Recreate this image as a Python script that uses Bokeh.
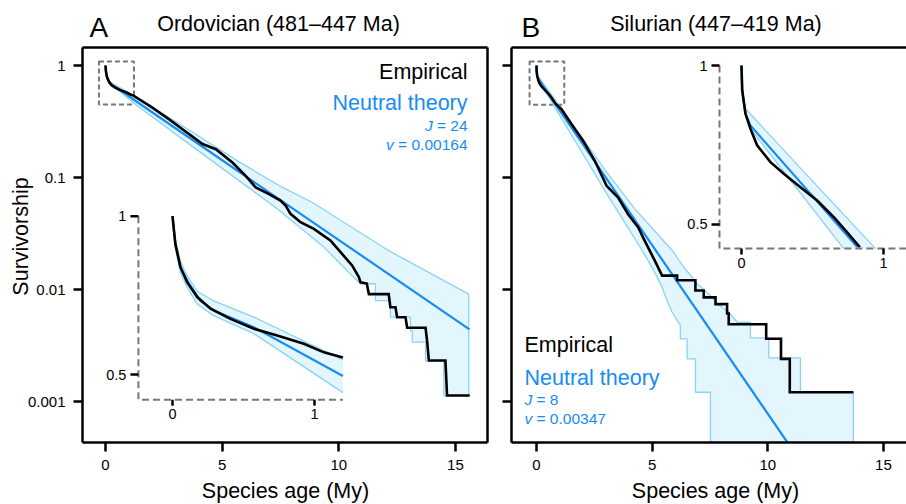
import math
from bokeh.plotting import figure
from bokeh.layouts import row
from bokeh.models import Range1d, LinearScale, LogScale, LinearAxis, FixedTicker, Label
from bokeh.embed import file_html
from bokeh.resources import INLINE
from bokeh.core.properties import value

# ------------------------------------------------------------------ data
x_ticks = [0, 5, 10, 15]
x_tick_labels = ["0", "5", "10", "15"]
y_ticks = [0.001, 0.01, 0.1, 1]
y_tick_labels = ["0.001", "0.01", "0.1", "1"]
inset_x_ticks = [0, 1]
inset_x_tick_labels = ["0", "1"]
inset_y_ticks = [0.5, 1]
inset_y_tick_labels = ["0.5", "1"]

titles = ["Ordovician (481\u2013447 Ma)", "Silurian (447\u2013419 Ma)"]
letters = ["A", "B"]
x_title = "Species age (My)"
y_title = "Survivorship"
J_text = ["= 24", "= 8"]
v_text = ["= 0.00164", "= 0.00347"]

# Ordovician: empirical survivorship
ord_emp_age = [0, 0.02, 0.056, 0.103, 0.174, 0.268, 0.408, 0.573, 0.737, 0.925,
               1.066, 1.2, 2.01, 2.73, 3.3, 4.16, 4.73, 5.44, 6.01, 6.44,
               7.01, 7.5, 7.73, 7.93, 8.36, 8.93, 9.64, 10.14, 10.57, 10.86, 10.93,
               11.2, 11.29, 12.14, 12.21, 12.43, 12.5, 12.86, 12.93, 13.72, 13.79,
               13.86, 14.57, 14.64, 15.61]
ord_emp_surv = [1.0, 0.886, 0.80, 0.749, 0.702, 0.667, 0.638, 0.611, 0.593, 0.572,
                0.551, 0.539, 0.42, 0.33, 0.27, 0.199, 0.179, 0.136, 0.1035, 0.0814,
                0.071, 0.0623, 0.0559, 0.0474, 0.0399, 0.0348, 0.0274, 0.0208, 0.0164, 0.0129, 0.0116,
                0.0113, 0.0091, 0.0091, 0.00695, 0.00695, 0.00566, 0.00566, 0.00455, 0.00455, 0.00339,
                0.00232, 0.00232, 0.00113, 0.00113]
# Ordovician: neutral theory (mean, upper and lower bounds)
ord_neu_age = [0, 0.02, 0.056, 0.115, 0.197, 0.291, 0.573, 1.2, 15.6]
ord_neu_surv = [1.0, 0.886, 0.80, 0.745, 0.69, 0.662, 0.615, 0.497, 0.0044]
ord_up_age = [0, 0.02, 0.056, 0.103, 0.174, 0.29, 0.573, 1.2, 3.0, 5.8, 7.59, 8.87, 12.13, 15.57, 15.57]
ord_up_surv = [1.0, 0.90, 0.82, 0.77, 0.72, 0.69, 0.643, 0.533, 0.316, 0.135, 0.0815, 0.0598, 0.0223, 0.0091, 0.00113]
ord_lo_age = [0, 0.02, 0.056, 0.103, 0.174, 0.29, 0.573, 1.2, 4.0, 7.29, 9.36, 10.57, 10.93,
              11.57, 11.57, 12.21, 12.21, 13.07, 13.07, 13.15, 13.15, 13.72, 13.72, 14.5, 14.5, 15.57]
ord_lo_surv = [1.0, 0.87, 0.78, 0.733, 0.681, 0.647, 0.598, 0.462, 0.172, 0.054, 0.0239, 0.0133, 0.01125,
               0.01125, 0.00797, 0.00797, 0.00566, 0.00566, 0.0043, 0.0043, 0.00339, 0.00339, 0.00229, 0.00229,
               0.00113, 0.00113]

# Silurian: empirical survivorship
sil_emp_age = [0, 0.005, 0.028, 0.063, 0.11, 0.204, 0.298, 0.415, 0.533, 0.65, 0.744, 0.833,
               1.08, 1.51, 2.02, 2.52, 3.03, 3.53, 3.96, 4.40, 4.68, 5.12, 5.43,
               6.08, 6.08, 6.87, 6.87, 7.23, 7.23, 7.74, 7.74, 8.24, 8.24, 8.31, 8.31,
               9.93, 9.93, 10.57, 10.57, 10.95, 10.95, 13.7]
sil_emp_surv = [1.0, 0.897, 0.81, 0.759, 0.706, 0.656, 0.624, 0.588, 0.555, 0.516, 0.483, 0.453,
                0.407, 0.30, 0.212, 0.141, 0.0843, 0.0663, 0.047, 0.0358, 0.0272, 0.018, 0.0133,
                0.0133, 0.0121, 0.0121, 0.0098, 0.0098, 0.0085, 0.0085, 0.0074, 0.0074, 0.0061, 0.0061, 0.0049,
                0.0049, 0.00363, 0.00363, 0.0024, 0.0024, 0.00121, 0.00121]
# Silurian: neutral theory (mean, upper and lower bounds); 0 = extinct (drawn at the axis floor)
sil_neu_age = [0, 0.005, 0.028, 0.063, 0.815, 10.84]
sil_neu_surv = [1.0, 0.897, 0.81, 0.77, 0.453, 0.000434]
sil_up_age = [0, 0.005, 0.028, 0.5, 0.944, 2.0, 3.0, 4.25, 5.87, 6.37, 6.95, 7.52, 7.81, 8.31, 8.68,
              9.25, 9.25, 10.04, 10.04, 11.41, 11.41, 13.7, 13.7]
sil_up_surv = [1.0, 0.90, 0.828, 0.604, 0.45, 0.222, 0.1138, 0.0525, 0.0223, 0.0158, 0.01125, 0.00883,
               0.00745, 0.0063, 0.0051, 0.0051, 0.0037, 0.0037, 0.00245, 0.00245, 0.00121, 0.00121, 0]
sil_lo_age = [0, 0.005, 0.028, 0.063, 0.72, 2.0, 3.0, 4.57, 5.07, 5.43, 5.64, 5.86, 6.22, 6.22,
              6.51, 6.51, 6.87, 6.87, 7.52, 7.52]
sil_lo_surv = [1.0, 0.897, 0.81, 0.759, 0.45, 0.163, 0.0736, 0.0223, 0.0148, 0.0105, 0.00798, 0.0063,
               0.00479, 0.00363, 0.00363, 0.0024, 0.0024, 0.00121, 0.00121, 0]

# ------------------------------------------------------------------ style / geometry (page px)
FONT = "Liberation Sans"
BLUE = "#168cf5"
BAND_LINE = "#88d3f6"
BAND_FILL = "#e3f5fd"
GRAY = "#777777"
BIG = 21.5
SMALL = 15.5
LETTER = 28

FIG_H = 504
BOX_TOP, BOX_BOT = 47, 442      # panel box (axes) top / bottom in page px

CFG = [
    dict(width=497, c_left=0, c_right=497, b_left=82, b_right=487, x0=105, ppu=23.33, y1=65, ppd=112,
         ix0=172, ippu=142, iy1=215.7, ippd=526, ileft=-0.24, ibot=0.448, iright=1.2,
         box=(-0.28, 1.22, 0.448, 1.085), right_border=True),
    dict(width=409, c_left=497, c_right=906, b_left=511, b_right=906, x0=536, ppu=23.13, y1=65, ppd=112,
         ix0=741, ippu=142, iy1=65, ippd=528, ileft=-0.155, ibot=0.45, iright=1.2,
         box=(-0.3, 1.2, 0.447, 1.086), right_border=False),
]
SERIES = [
    (ord_emp_age, ord_emp_surv, ord_neu_age, ord_neu_surv, ord_up_age, ord_up_surv, ord_lo_age, ord_lo_surv),
    (sil_emp_age, sil_emp_surv, sil_neu_age, sil_neu_surv, sil_up_age, sil_up_surv, sil_lo_age, sil_lo_surv),
]


def lin_range(lo_px, hi_px, zero_px, ppu):
    return Range1d((lo_px - zero_px) / ppu, (hi_px - zero_px) / ppu)


def log_range(one_px, ppd):
    return Range1d(10 ** ((one_px - FIG_H) / ppd), 10 ** ((one_px - 0) / ppd))


def draw_curves(p, s, keep, rn, floor):
    ex, ey, nx, ny, ux, uy, lx, ly = s

    def sel(xs, ys):
        pts = [(a, max(b, floor)) for a, b in zip(xs, ys) if keep(a, b)]
        return [q[0] for q in pts], [q[1] for q in pts]

    ex, ey = sel(ex, ey)
    nx, ny = sel(nx, ny)
    ux, uy = sel(ux, uy)
    lx, ly = sel(lx, ly)
    kw = dict(x_range_name=rn, y_range_name=rn)
    p.patch(ux + lx[::-1], uy + ly[::-1], fill_color=BAND_FILL, line_color=None, **kw)
    p.line(ux, uy, line_color=BAND_LINE, line_width=1.3, **kw)
    p.line(lx, ly, line_color=BAND_LINE, line_width=1.3, **kw)
    p.line(nx, ny, line_color=BLUE, line_width=2.2, **kw)
    p.line(ex, ey, line_color="black", line_width=2.6, line_join="miter", **kw)


def style_axis(ax):
    ax.axis_line_width = 2.5
    ax.axis_line_color = "black"
    ax.major_tick_line_width = 2.5
    ax.major_tick_out = 9
    ax.major_tick_in = 0
    ax.minor_tick_line_color = None
    ax.major_label_text_font = FONT
    ax.major_label_text_font_size = "15px"
    ax.major_label_text_color = "black"
    ax.major_label_standoff = 8


figs = []
for i, (c, s) in enumerate(zip(CFG, SERIES)):
    xr = lin_range(c["c_left"], c["c_right"], c["x0"], c["ppu"])
    yr = log_range(c["y1"], c["ppd"])
    X = lambda px, c=c: (px - c["x0"]) / c["ppu"]
    Y = lambda py, c=c: 10 ** ((c["y1"] - py) / c["ppd"])
    y_top, y_bot = Y(BOX_TOP), Y(BOX_BOT)
    x_lo, x_hi = X(c["b_left"]), X(c["b_right"])

    p = figure(width=c["width"], height=FIG_H, x_range=xr, y_range=yr, y_axis_type="log",
               output_backend="svg", toolbar_location=None,
               min_border_left=0, min_border_right=0, min_border_top=0, min_border_bottom=0)
    p.grid.visible = False
    p.background_fill_color = "white"
    p.border_fill_color = "white"
    p.outline_line_color = None

    def label(px, py, text, size=BIG, color="black", align="left", style="normal", angle=0.0,
              p=p, X=X, Y=Y):
        # (px, py) is the wanted baseline point; Bokeh anchors the text about 0.34 em off it
        if angle:
            ax_, ay_ = px - 0.34 * size, py
        else:
            ax_, ay_ = px, py - 0.34 * size
        p.add_layout(Label(x=X(ax_), y=Y(ay_), text=text, text_font=FONT,
                           text_font_size=f"{size}px", text_color=color, text_align=align,
                           text_baseline="alphabetic", text_font_style=style, angle=angle))

    # axes of the panel box (placed at fixed data locations)
    for ax in p.axis:
        style_axis(ax)
    p.xaxis.ticker = FixedTicker(ticks=x_ticks, minor_ticks=[])
    p.xaxis.major_label_overrides = dict(zip(x_ticks, x_tick_labels))
    p.xaxis.fixed_location = y_bot
    p.xaxis.bounds = (x_lo, x_hi)
    p.yaxis.ticker = FixedTicker(ticks=y_ticks, minor_ticks=[])
    p.yaxis.fixed_location = x_lo
    p.yaxis.bounds = (y_bot, y_top)
    if i == 0:
        p.yaxis.major_label_overrides = dict(zip(y_ticks, y_tick_labels))
    else:
        p.yaxis.major_label_overrides = {t: "" for t in y_ticks}
        p.yaxis.major_label_standoff = 0
    if c["right_border"]:
        rax = LinearAxis(ticker=FixedTicker(ticks=[], minor_ticks=[]), fixed_location=x_hi,
                         bounds=(y_bot, y_top))
        style_axis(rax)
        p.add_layout(rax, "right")
    p.line([x_lo, x_hi], [y_top, y_top], line_color="black", line_width=2.5)

    # inset coordinate system
    p.extra_x_ranges = {"ins": lin_range(c["c_left"], c["c_right"], c["ix0"], c["ippu"])}
    p.extra_y_ranges = {"ins": log_range(c["iy1"], c["ippd"])}
    p.extra_x_scales = {"ins": LinearScale()}
    p.extra_y_scales = {"ins": LogScale()}

    # zoom box in main panel
    bx0, bx1, by0, by1 = c["box"]
    p.quad(left=[bx0], right=[bx1], bottom=[by0], top=[by1], fill_alpha=0,
           line_color=GRAY, line_width=2, line_dash="5 3")

    # main curves
    draw_curves(p, s, lambda a, b: True, "default", y_bot)
    # inset curves
    if i == 0:
        keep = lambda a, b, c=c: a <= c["iright"] + 1e-9
    else:
        keep = lambda a, b, c=c: b >= c["ibot"] - 1e-4
    draw_curves(p, s, keep, "ins", 0)

    # inset axes (dashed) + ticks + labels
    kw = dict(x_range_name="ins", y_range_name="ins")
    xl, yb = c["ileft"], c["ibot"]
    xl_right = min(c["iright"], (c["c_right"] - c["ix0"]) / c["ippu"])
    p.line([xl, xl, xl_right], [max(inset_y_ticks), yb, yb], line_color=GRAY, line_width=2,
           line_dash="7 4", **kw)
    tick_dx = 8 / c["ippu"]
    p.segment(x0=[xl] * len(inset_y_ticks), y0=inset_y_ticks,
              x1=[xl - tick_dx] * len(inset_y_ticks), y1=inset_y_ticks,
              line_color="black", line_width=2.5, **kw)
    yb2 = yb * 10 ** (-6 / c["ippd"])
    p.segment(x0=inset_x_ticks, y0=[yb] * len(inset_x_ticks), x1=inset_x_ticks,
              y1=[yb2] * len(inset_x_ticks), line_color="black", line_width=2.5, **kw)
    p.text(x=[xl] * len(inset_y_ticks), y=inset_y_ticks, text=inset_y_tick_labels,
           x_offset=-12, text_align="right", text_baseline="middle",
           text_font=value(FONT), text_font_size=value("14.5px"), text_color="black", **kw)
    p.text(x=inset_x_ticks, y=[yb] * len(inset_x_ticks), text=inset_x_tick_labels,
           y_offset=9, text_align="center", text_baseline="top",
           text_font=value(FONT), text_font_size=value("14.5px"), text_color="black", **kw)

    if i == 0:
        label(89, 37, letters[0], size=LETTER)
        label(278, 31, titles[0], align="center")
        label(467, 79, "Empirical", align="right")
        label(467, 110, "Neutral theory", align="right", color=BLUE)
        label(424.5, 130, "J", size=SMALL, color=BLUE, style="italic")
        label(467, 130, J_text[0], size=SMALL, color=BLUE, align="right")
        label(385.5, 149, "v", size=SMALL, color=BLUE, style="italic")
        label(467, 149, v_text[0], size=SMALL, color=BLUE, align="right")
        label(28, 236, y_title, align="center", angle=math.pi / 2)
        label(285, 498, x_title, align="center")
    else:
        label(521, 37, letters[1], size=LETTER)
        label(715.5, 31, titles[1], align="center")
        label(524, 352, "Empirical")
        label(524, 385, "Neutral theory", color=BLUE)
        label(524, 404, "J", size=SMALL, color=BLUE, style="italic")
        label(536, 404, J_text[1], size=SMALL, color=BLUE)
        label(524, 423, "v", size=SMALL, color=BLUE, style="italic")
        label(536, 423, v_text[1], size=SMALL, color=BLUE)
        label(715, 498, x_title, align="center")
    figs.append(p)

layout = row(*figs)
open("out.html", "w").write(file_html(layout, INLINE))
